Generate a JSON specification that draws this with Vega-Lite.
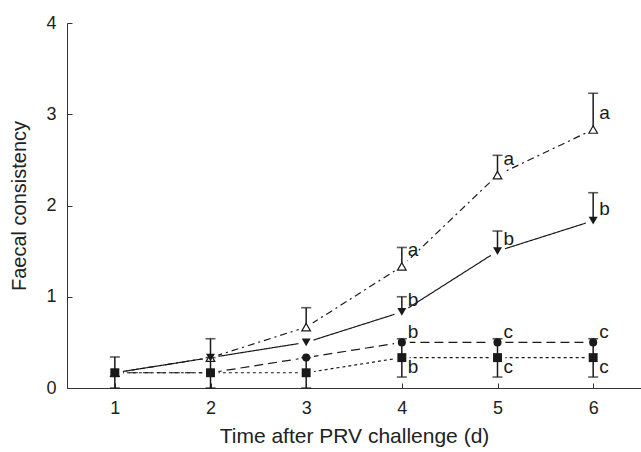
{
  "$schema": "https://vega.github.io/schema/vega-lite/v6.json",
  "autosize": "none",
  "width": 574,
  "height": 365,
  "padding": {"left": 67, "top": 23, "right": 0, "bottom": 64},
  "config": {
    "view": {"stroke": null},
    "font": "Liberation Sans",
    "axis": {
      "grid": false,
      "domainColor": "#333333",
      "tickColor": "#333333",
      "labelColor": "#222222",
      "titleColor": "#222222",
      "labelFontSize": 18,
      "titleFontSize": 20,
      "titleFontWeight": "normal",
      "labelFont": "Liberation Sans",
      "titleFont": "Liberation Sans"
    }
  },
  "data": {
    "values": [
      {"group": "A", "day": 1, "mean": 0.167, "lo": null, "hi": null, "label": null},
      {"group": "A", "day": 2, "mean": 0.333, "lo": 0.333, "hi": 0.54, "label": null},
      {"group": "A", "day": 3, "mean": 0.667, "lo": 0.667, "hi": 0.88, "label": null},
      {"group": "A", "day": 4, "mean": 1.333, "lo": 1.333, "hi": 1.54, "label": "a"},
      {"group": "A", "day": 5, "mean": 2.333, "lo": 2.333, "hi": 2.55, "label": "a"},
      {"group": "A", "day": 6, "mean": 2.833, "lo": 2.833, "hi": 3.23, "label": "a"},
      {"group": "B", "day": 1, "mean": 0.167, "lo": null, "hi": null, "label": null},
      {"group": "B", "day": 2, "mean": 0.333, "lo": null, "hi": null, "label": null},
      {"group": "B", "day": 3, "mean": 0.5, "lo": null, "hi": null, "label": null},
      {"group": "B", "day": 4, "mean": 0.833, "lo": 0.833, "hi": 1.0, "label": "b"},
      {"group": "B", "day": 5, "mean": 1.5, "lo": 1.5, "hi": 1.72, "label": "b"},
      {"group": "B", "day": 6, "mean": 1.833, "lo": 1.833, "hi": 2.14, "label": "b"},
      {"group": "C", "day": 1, "mean": 0.167, "lo": null, "hi": null, "label": null},
      {"group": "C", "day": 2, "mean": 0.167, "lo": null, "hi": null, "label": null},
      {"group": "C", "day": 3, "mean": 0.333, "lo": null, "hi": null, "label": null},
      {"group": "C", "day": 4, "mean": 0.5, "lo": null, "hi": null, "label": "b"},
      {"group": "C", "day": 5, "mean": 0.5, "lo": null, "hi": null, "label": "c"},
      {"group": "C", "day": 6, "mean": 0.5, "lo": null, "hi": null, "label": "c"},
      {"group": "D", "day": 1, "mean": 0.167, "lo": 0.0, "hi": 0.34, "label": null},
      {"group": "D", "day": 2, "mean": 0.167, "lo": 0.0, "hi": 0.333, "label": null},
      {"group": "D", "day": 3, "mean": 0.167, "lo": 0.0, "hi": 0.333, "label": null},
      {"group": "D", "day": 4, "mean": 0.333, "lo": 0.12, "hi": 0.54, "label": "b"},
      {"group": "D", "day": 5, "mean": 0.333, "lo": 0.12, "hi": 0.54, "label": "c"},
      {"group": "D", "day": 6, "mean": 0.333, "lo": 0.12, "hi": 0.54, "label": "c"}
    ]
  },
  "encoding": {
    "x": {
      "field": "day",
      "type": "quantitative",
      "scale": {"domain": [0.5, 6.5], "nice": false, "zero": false},
      "axis": {
        "title": "Time after PRV challenge (d)",
        "titleFontSize": 21,
        "values": [1, 2, 3, 4, 5, 6],
        "format": "d",
        "tickSize": -5,
        "labelPadding": 16,
        "titlePadding": 8
      }
    },
    "y": {
      "field": "mean",
      "type": "quantitative",
      "scale": {"domain": [0, 4], "nice": false},
      "axis": {
        "title": "Faecal consistency",
        "values": [0, 1, 2, 3, 4],
        "format": "d",
        "tickSize": -5,
        "labelPadding": 16,
        "titlePadding": 16
      }
    }
  },
  "layer": [
    {
      "mark": {"type": "line", "color": "#1a1a1a", "strokeWidth": 1.2},
      "encoding": {
        "detail": {"field": "group"},
        "strokeDash": {
          "field": "group",
          "type": "nominal",
          "scale": {"domain": ["A", "B", "C", "D"], "range": [[7, 4, 2, 4], [1, 0], [9, 5], [3, 3]]},
          "legend": null
        }
      }
    },
    {
      "mark": {"type": "point", "shape": "circle", "filled": true, "color": "white", "opacity": 1, "size": 250}
    },
    {
      "transform": [{"filter": "datum.hi != null"}],
      "mark": {"type": "rule", "color": "#1a1a1a", "strokeWidth": 1.5},
      "encoding": {"y": {"field": "lo", "type": "quantitative"}, "y2": {"field": "hi"}}
    },
    {
      "transform": [{"filter": "datum.hi != null"}],
      "mark": {"type": "tick", "orient": "horizontal", "color": "#1a1a1a", "size": 10, "thickness": 1.6},
      "encoding": {"y": {"field": "hi", "type": "quantitative"}}
    },
    {
      "transform": [{"filter": "datum.hi != null && datum.lo < datum.mean"}],
      "mark": {"type": "tick", "orient": "horizontal", "color": "#1a1a1a", "size": 10, "thickness": 1.6},
      "encoding": {"y": {"field": "lo", "type": "quantitative"}}
    },
    {
      "transform": [{"filter": "datum.group == 'A'"}],
      "mark": {"type": "point", "shape": "triangle-up", "filled": false, "fill": "white", "fillOpacity": 1, "stroke": "#1a1a1a", "strokeWidth": 1.2, "size": 75, "opacity": 1}
    },
    {
      "transform": [{"filter": "datum.group == 'B'"}],
      "mark": {"type": "point", "shape": "triangle-down", "filled": true, "color": "#1a1a1a", "size": 80, "opacity": 1}
    },
    {
      "transform": [{"filter": "datum.group == 'C'"}],
      "mark": {"type": "point", "shape": "circle", "filled": true, "color": "#1a1a1a", "size": 65, "opacity": 1}
    },
    {
      "transform": [{"filter": "datum.group == 'D'"}],
      "mark": {"type": "point", "shape": "square", "filled": true, "color": "#1a1a1a", "size": 80, "opacity": 1}
    },
    {
      "transform": [{"filter": "datum.label != null && datum.group == 'A'"}],
      "mark": {"type": "text", "align": "left", "baseline": "middle", "dx": 6, "dy": -16, "fontSize": 19, "color": "#1a1a1a"},
      "encoding": {"text": {"field": "label"}}
    },
    {
      "transform": [{"filter": "datum.label != null && datum.group == 'B'"}],
      "mark": {"type": "text", "align": "left", "baseline": "middle", "dx": 6, "dy": -12, "fontSize": 19, "color": "#1a1a1a"},
      "encoding": {"text": {"field": "label"}}
    },
    {
      "transform": [{"filter": "datum.label != null && datum.group == 'C'"}],
      "mark": {"type": "text", "align": "left", "baseline": "middle", "dx": 6, "dy": -10, "fontSize": 19, "color": "#1a1a1a"},
      "encoding": {"text": {"field": "label"}}
    },
    {
      "transform": [{"filter": "datum.label != null && datum.group == 'D'"}],
      "mark": {"type": "text", "align": "left", "baseline": "middle", "dx": 6, "dy": 9, "fontSize": 19, "color": "#1a1a1a"},
      "encoding": {"text": {"field": "label"}}
    }
  ]
}
